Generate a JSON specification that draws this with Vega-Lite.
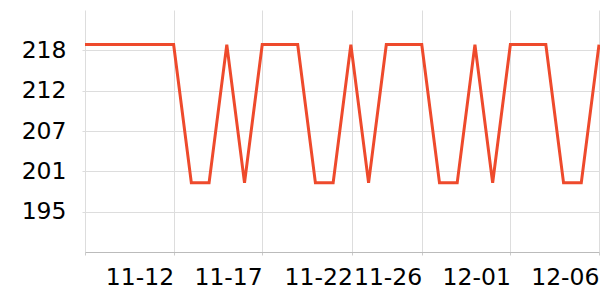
{
  "$schema": "https://vega.github.io/schema/vega-lite/v6.json",
  "autosize": {"type": "none"},
  "padding": {"left": 85, "top": 10, "right": 1, "bottom": 48},
  "width": 514,
  "height": 242,
  "background": "white",
  "config": {"view": {"stroke": null}, "font": "DejaVu Sans"},
  "data": {"values": [
    {"date": "2023-11-07", "value": 219},
    {"date": "2023-11-08", "value": 219},
    {"date": "2023-11-09", "value": 219},
    {"date": "2023-11-10", "value": 219},
    {"date": "2023-11-11", "value": 219},
    {"date": "2023-11-12", "value": 219},
    {"date": "2023-11-13", "value": 199},
    {"date": "2023-11-14", "value": 199},
    {"date": "2023-11-15", "value": 219},
    {"date": "2023-11-16", "value": 199},
    {"date": "2023-11-17", "value": 219},
    {"date": "2023-11-18", "value": 219},
    {"date": "2023-11-19", "value": 219},
    {"date": "2023-11-20", "value": 199},
    {"date": "2023-11-21", "value": 199},
    {"date": "2023-11-22", "value": 219},
    {"date": "2023-11-23", "value": 199},
    {"date": "2023-11-24", "value": 219},
    {"date": "2023-11-25", "value": 219},
    {"date": "2023-11-26", "value": 219},
    {"date": "2023-11-27", "value": 199},
    {"date": "2023-11-28", "value": 199},
    {"date": "2023-11-29", "value": 219},
    {"date": "2023-11-30", "value": 199},
    {"date": "2023-12-01", "value": 219},
    {"date": "2023-12-02", "value": 219},
    {"date": "2023-12-03", "value": 219},
    {"date": "2023-12-04", "value": 199},
    {"date": "2023-12-05", "value": 199},
    {"date": "2023-12-06", "value": 219}
  ]},
  "mark": {"type": "line", "color": "#ee4a2c", "strokeWidth": 3, "strokeJoin": "miter"},
  "encoding": {
    "x": {
      "field": "date", "type": "temporal",
      "scale": {"type": "utc", "domain": [{"year": 2023, "month": 11, "date": 7, "utc": true}, {"year": 2023, "month": 12, "date": 6, "utc": true}], "nice": false},
      "axis": {
        "title": null,
        "values": [
          {"year": 2023, "month": 11, "date": 7, "utc": true},
          {"year": 2023, "month": 11, "date": 12, "utc": true},
          {"year": 2023, "month": 11, "date": 17, "utc": true},
          {"year": 2023, "month": 11, "date": 22, "hours": 2, "utc": true},
          {"year": 2023, "month": 11, "date": 26, "utc": true},
          {"year": 2023, "month": 12, "date": 1, "utc": true},
          {"year": 2023, "month": 12, "date": 6, "utc": true}
        ],
        "labelExpr": "utcdate(datum.value) == 7 ? '' : utcFormat(datum.value, '%m-%d')",
        "labelAlign": "right",
        "labelBaseline": "top",
        "labelFontSize": 23.5,
        "labelColor": "#000000",
        "labelPadding": 10,
        "labelFlush": false,
        "labelOverlap": false,
        "grid": true,
        "gridColor": "#dddddd",
        "domainColor": "#bbbbbb",
        "tickColor": "#cccccc",
        "tickSize": 3
      }
    },
    "y": {
      "field": "value", "type": "quantitative",
      "scale": {"domain": [189, 224], "nice": false, "zero": false},
      "axis": {
        "title": null,
        "values": [194.8333, 200.6667, 206.5, 212.3333, 218.1667],
        "format": "d",
        "labelFontSize": 23.5,
        "labelColor": "#000000",
        "labelPadding": 16,
        "grid": true,
        "gridColor": "#dddddd",
        "domain": false,
        "tickColor": "#dddddd",
        "tickSize": 3
      }
    }
  }
}
